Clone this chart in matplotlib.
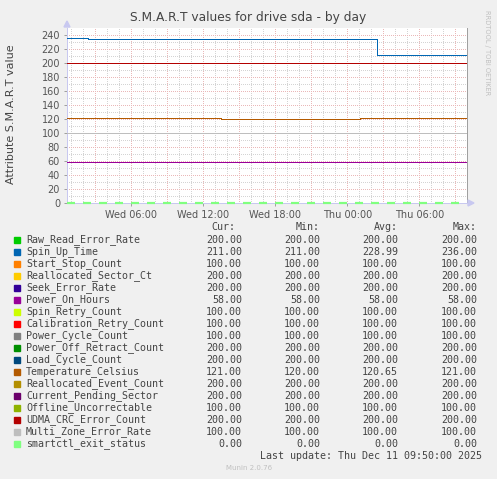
import matplotlib
matplotlib.use('Agg')
import matplotlib.pyplot as plt
import numpy as np

W, H = 497, 479

# time axis in hours since Wed 00:00
t_start = 0.64
t_end = 33.97

names = ['Raw_Read_Error_Rate', 'Spin_Up_Time', 'Start_Stop_Count', 'Reallocated_Sector_Ct',
         'Seek_Error_Rate', 'Power_On_Hours', 'Spin_Retry_Count', 'Calibration_Retry_Count',
         'Power_Cycle_Count', 'Power_Off_Retract_Count', 'Load_Cycle_Count', 'Temperature_Celsius',
         'Reallocated_Event_Count', 'Current_Pending_Sector', 'Offline_Uncorrectable',
         'UDMA_CRC_Error_Count', 'Multi_Zone_Error_Rate', 'smartctl_exit_status']
colors = ['#00CC00', '#0066B3', '#FF8000', '#FFCC00', '#330099', '#990099', '#CCFF00', '#FF0000',
          '#808080', '#008F00', '#00487D', '#B35A00', '#B38F00', '#6B006B', '#8FB300',
          '#B30000', '#BEBEBE', '#80FF80']

cur = [200, 211, 100, 200, 200, 58, 100, 100, 100, 200, 200, 121, 200, 200, 100, 200, 100, 0]
vmin = [200, 211, 100, 200, 200, 58, 100, 100, 100, 200, 200, 120, 200, 200, 100, 200, 100, 0]
vavg = [200, 228.99, 100, 200, 200, 58, 100, 100, 100, 200, 200, 120.65, 200, 200, 100, 200, 100, 0]
vmax = [200, 236, 100, 200, 200, 58, 100, 100, 100, 200, 200, 121, 200, 200, 100, 200, 100, 0]

# series that change over the day (step changes)
spin_up_t = [t_start, 2.37, 26.45, t_end]
spin_up_v = [236, 234, 211, 211]
temp_t = [t_start, 13.47, 25.06, t_end]
temp_v = [121, 120, 121, 121]

xtick_pos = [6, 12, 18, 24, 30]
xtick_lab = ['Wed 06:00', 'Wed 12:00', 'Wed 18:00', 'Thu 00:00', 'Thu 06:00']

fig = plt.figure(figsize=(W / 100, H / 100), dpi=100)
fig.patch.set_facecolor('#F0F0F0')

def fx(x):
    return x / W

def fy(y):
    return 1 - y / H

ax_l, ax_r, ax_t, ax_b = 67, 467, 28, 203
ax = fig.add_axes([fx(ax_l), fy(ax_b), (ax_r - ax_l) / W, (ax_b - ax_t) / H])
ax.set_facecolor('white')
ax.set_xlim(t_start, t_end)
ax.set_ylim(0, 250)

lw = 0.72
dot = (0, (1, 2))
# grid
for h in np.arange(1, 34, 1):
    c = '#EAB8B8' if h % 3 == 0 else '#D4D4D4'
    ax.axvline(h, color=c, lw=lw, ls=dot, zorder=1, antialiased=False)
for v in range(10, 250, 10):
    c = '#EAB8B8' if v % 20 == 0 else '#D4D4D4'
    ax.axhline(v, color=c, lw=lw, ls=dot, zorder=1, antialiased=False)

# lines
for i, n in enumerate(names):
    if n == 'Spin_Up_Time':
        ax.plot(spin_up_t, spin_up_v, color=colors[i], lw=lw, drawstyle='steps-post',
                zorder=3, antialiased=False)
    elif n == 'Temperature_Celsius':
        ax.plot(temp_t, temp_v, color=colors[i], lw=lw, drawstyle='steps-post',
                zorder=3, antialiased=False)
    elif n == 'smartctl_exit_status':
        ax.plot([t_start, t_end], [cur[i], cur[i]], color=colors[i], lw=1.6,
                ls=(0, (3.6, 3.6)), zorder=6, clip_on=False)
    else:
        ax.plot([t_start, t_end], [cur[i], cur[i]], color=colors[i], lw=lw,
                zorder=3, antialiased=False)

ax.spines['top'].set_visible(False)
ax.spines['left'].set_color('#C8C8F0')
ax.spines['bottom'].set_color('#C8C8F0')
ax.spines['right'].set_color('#A0A0A0')
for s in ['left', 'bottom', 'right']:
    ax.spines[s].set_linewidth(lw)

ax.set_yticks(range(0, 241, 20))
ax.set_yticklabels([str(v) for v in range(0, 241, 20)], fontsize=7, color='#555555')
ax.set_xticks(xtick_pos)
ax.set_xticklabels(xtick_lab, fontsize=7, color='#555555')
ax.tick_params(axis='both', length=2, width=lw, color='#A0A0A0', pad=3)

# arrows
fig.patches.append(plt.Polygon([[fx(64), fy(27)], [fx(70), fy(27)], [fx(67), fy(21)]],
                               closed=True, color='#C8C8F0', transform=fig.transFigure))
fig.patches.append(plt.Polygon([[fx(468), fy(200)], [fx(468), fy(206)], [fx(474), fy(203)]],
                               closed=True, color='#C8C8F0', transform=fig.transFigure))

fig.text(fx(248), fy(18), 'S.M.A.R.T values for drive sda - by day', ha='center', va='center',
         fontsize=8.8, color='#444444')
fig.text(fx(11), fy(114), 'Attribute S.M.A.R.T value', rotation=90, ha='center', va='center',
         fontsize=8, color='#444444')
fig.text(fx(487), fy(53), 'RRDTOOL / TOBI OETIKER', rotation=-90, ha='center', va='center',
         fontsize=4.8, color='#C0C0C0')

mono = dict(family='DejaVu Sans Mono', fontsize=7.2, color='#444444', va='center')
fig.text(fx(235), fy(227), 'Cur:', ha='right', **mono)
fig.text(fx(320), fy(227), 'Min:', ha='right', **mono)
fig.text(fx(398), fy(227), 'Avg:', ha='right', **mono)
fig.text(fx(477), fy(227), 'Max:', ha='right', **mono)
for i, n in enumerate(names):
    y = 239.7 + 12 * i
    fig.patches.append(plt.Rectangle((fx(14), fy(y + 3)), 6 / W, 6 / H, color=colors[i],
                                     transform=fig.transFigure))
    fig.text(fx(26), fy(y), n, ha='left', **mono)
    fig.text(fx(242), fy(y), '%.2f' % cur[i], ha='right', **mono)
    fig.text(fx(320), fy(y), '%.2f' % vmin[i], ha='right', **mono)
    fig.text(fx(398), fy(y), '%.2f' % vavg[i], ha='right', **mono)
    fig.text(fx(477), fy(y), '%.2f' % vmax[i], ha='right', **mono)
fig.text(fx(482), fy(456), 'Last update: Thu Dec 11 09:50:00 2025', ha='right', **mono)
fig.text(fx(249), fy(468), 'Munin 2.0.76', ha='center', va='center', fontsize=5, color='#C0C0C0')

fig.savefig('out.png', dpi=100, facecolor=fig.get_facecolor())
